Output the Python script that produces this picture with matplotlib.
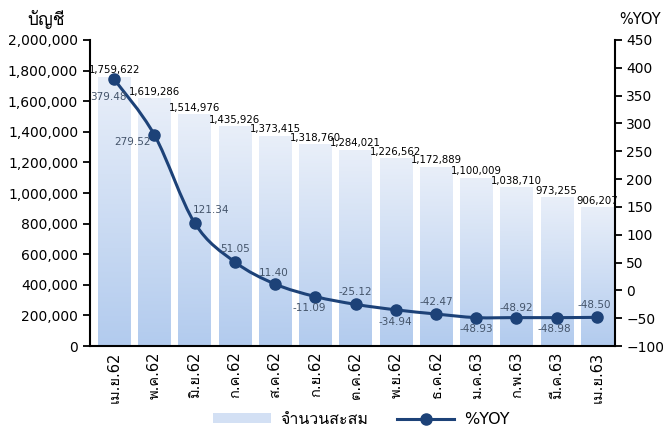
import numpy as np
import matplotlib
matplotlib.use('Agg')
import matplotlib.pyplot as plt
from matplotlib import font_manager, ft2font
from matplotlib.path import Path
from matplotlib.patches import PathPatch, Patch
from matplotlib.lines import Line2D
from matplotlib.ticker import FuncFormatter

# data
months = ['เม.ย.62', 'พ.ค.62', 'มิ.ย.62', 'ก.ค.62', 'ส.ค.62', 'ก.ย.62', 'ต.ค.62',
          'พ.ย.62', 'ธ.ค.62', 'ม.ค.63', 'ก.พ.63', 'มี.ค.63', 'เม.ย.63']
accounts = [1759622, 1619286, 1514976, 1435926, 1373415, 1318760, 1284021,
            1226562, 1172889, 1100009, 1038710, 973255, 906207]
yoy = [379.48, 279.52, 121.34, 51.05, 11.40, -11.09, -25.12,
       -34.94, -42.47, -48.93, -48.92, -48.98, -48.50]

# pick an installed font that has Thai glyphs, fall back to DejaVu Sans
thai_fonts = []
for fe in font_manager.fontManager.ttflist:
    try:
        if 0x0E1A in ft2font.FT2Font(fe.fname).get_charmap():
            if fe.name not in thai_fonts:
                thai_fonts.append(fe.name)
    except Exception:
        pass
plt.rcParams['font.family'] = ['DejaVu Sans'] + thai_fonts

line_col = '#1d4278'
lbl_col = '#44546a'

fig = plt.figure(figsize=(6.63, 4.30), dpi=100)
ax = fig.add_axes([0.1357, 0.1953, 0.792, 0.7117])
x = np.arange(len(months))

bars = ax.bar(x, accounts, width=0.8, color='none', edgecolor='none', zorder=1)
grad = np.linspace(0, 1, 256).reshape(-1, 1)
cmap = matplotlib.colors.LinearSegmentedColormap.from_list('g', ['#b2cbee', '#e9eff9'])
for b in bars:
    im = ax.imshow(grad, cmap=cmap, origin='lower', aspect='auto', zorder=1,
                   extent=[b.get_x(), b.get_x() + b.get_width(), 0, b.get_height()])
    im.set_clip_path(b)

for xi, v in zip(x, accounts):
    ax.annotate(f'{v:,}', (xi, v), xytext=(0, 1), textcoords='offset points',
                ha='center', va='bottom', fontsize=7.3, color='black', zorder=5)

ax.set_xlim(-0.6, 12.45)
ax.set_ylim(0, 2000000)
ax.set_yticks(np.arange(0, 2000001, 200000))
ax.yaxis.set_major_formatter(FuncFormatter(lambda v, p: f'{int(v):,}'))
ax.set_xticks(x)
ax.set_xticklabels(months, rotation=90, fontsize=10.5)
ax.tick_params(axis='x', length=0, pad=4)
ax.tick_params(axis='y', labelsize=10, length=5, width=1.3, direction='out')
for s in ['top', 'right']:
    ax.spines[s].set_visible(False)
ax.spines['left'].set_linewidth(1.5)
ax.spines['bottom'].set_linewidth(1.5)

ax2 = ax.twinx()
ax2.set_ylim(-100, 450)
ax2.set_yticks(np.arange(-100, 451, 50))
ax2.tick_params(axis='y', labelsize=10, length=5, width=1.3, direction='out', pad=3)
for s in ['top', 'left', 'bottom']:
    ax2.spines[s].set_visible(False)
ax2.spines['right'].set_linewidth(1.5)

# smoothed line (Catmull-Rom as cubic Bezier)
pts = np.column_stack([x, yoy]).astype(float)
verts = [pts[0]]
codes = [Path.MOVETO]
for i in range(len(pts) - 1):
    p0 = pts[max(i - 1, 0)]
    p1 = pts[i]
    p2 = pts[i + 1]
    p3 = pts[min(i + 2, len(pts) - 1)]
    verts += [p1 + (p2 - p0) / 6, p2 - (p3 - p1) / 6, p2]
    codes += [Path.CURVE4] * 3
ax2.add_patch(PathPatch(Path(verts, codes), facecolor='none', edgecolor=line_col,
                        lw=2.2, zorder=3))
ax2.plot(x, yoy, 'o', color=line_col, ms=8, zorder=4)

offsets = [(-4, -13), (-16, -5), (12, 9), (0, 9), (-1, 8), (-4, -8), (0, 9),
           (0, -9), (0, 9), (0, -8), (0, 7), (-2, -8), (-2, 9)]
for xi, v, off in zip(x, yoy, offsets):
    ax2.annotate(f'{v:.2f}', (xi, v), xytext=off, textcoords='offset points',
                 ha='center', va='center', fontsize=7.5, color=lbl_col, zorder=5)

fig.text(0.042, 0.955, 'บัญชี', fontsize=12.5, ha='left', va='center')
fig.text(0.997, 0.955, '%YOY', fontsize=10.5, ha='right', va='center')

handles = [Patch(facecolor='#d3e0f4', edgecolor='none'),
           Line2D([0], [0], color=line_col, lw=2.2, marker='o', ms=8)]
fig.legend(handles, ['จำนวนสะสม', '%YOY'], loc='center', bbox_to_anchor=(0.545, 0.025),
           ncol=2, frameon=False, fontsize=11.5, handlelength=3.6, handleheight=0.55,
           columnspacing=1.8, handletextpad=0.6)

fig.savefig('out.png', dpi=100)
